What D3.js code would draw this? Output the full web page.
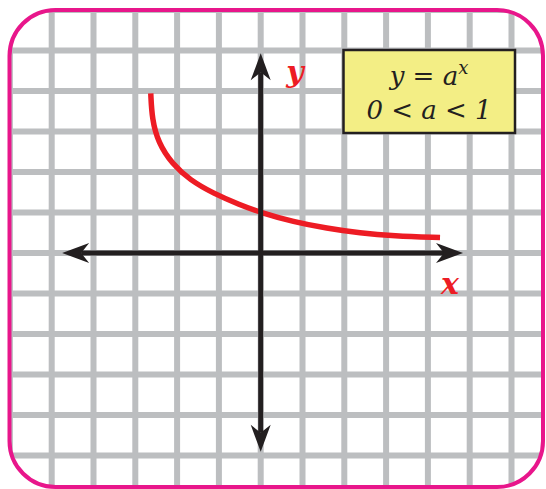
<!DOCTYPE html>
<html lang="en">
<head>
<meta charset="utf-8">
<title>y = a^x, 0 &lt; a &lt; 1</title>
<script src="https://d3js.org/d3.v7.min.js"></script>
<style>
    body { margin: 0; background: #fff; }
    svg { display: block; }
    .grid line { stroke: #bcbec0; stroke-width: 6; }
    .axis { stroke: #231f20; stroke-width: 5; }
    .arrow { fill: #231f20; }
    .curve { fill: none; stroke: #ed1c24; stroke-width: 5.5; stroke-linecap: butt; }
    .axlabel { font-family: "DejaVu Serif", serif; font-style: italic; font-weight: bold; fill: #ed1c24; font-size: 30px; }
    .boxtext { font-family: "DejaVu Serif", serif; font-style: italic; fill: #231f20; font-size: 26px; }
    .box { fill: #f3ee85; stroke: #231f20; stroke-width: 2.5; }
</style>
</head>
<body>
<svg width="546" height="489"></svg>
<script>
// grid lines, in grid units
const gridX = [-6, -5, -4, -3, -2, -1, 0, 1, 2, 3, 4, 5, 6];
const gridY = [6, 5, 4, 3, 2, 1, 0, -1, -2, -3, -4, -5];

// axis extent (arrow tips), grid units
const xAxisRange = [-4.75, 4.84];
const yAxisRange = [-4.91, 4.93];

// red curve (grid units)
const curveX = [-2.63, -2.60, -2.45, -2.12, -1.69, -1.13, -0.50, 0, 0.78, 1.58, 2.38, 3.17, 4.29];
const curveY = [3.94, 3.30, 2.72, 2.20, 1.80, 1.47, 1.19, 1.0, 0.77, 0.61, 0.49, 0.42, 0.38];

const boxLines = ['y = a', '0 < a < 1'];

const svg = d3.select('svg');

const x = d3.scaleLinear().domain([-5, 6]).range([51.7, 511.5]);
const y = d3.scaleLinear().domain([5, -5]).range([50.5, 455.5]);

// frame
const frame = { x: 9.5, y: 10, w: 533.5, h: 477, r: 46 };

svg.append('clipPath').attr('id', 'clip')
    .append('rect')
    .attr('x', frame.x).attr('y', frame.y)
    .attr('width', frame.w).attr('height', frame.h)
    .attr('rx', frame.r);

const grid = svg.append('g').attr('class', 'grid').attr('clip-path', 'url(#clip)');

grid.selectAll('line.v')
    .data(gridX)
    .enter().append('line')
    .attr('class', 'v')
    .attr('x1', d => x(d)).attr('x2', d => x(d))
    .attr('y1', 0).attr('y2', 489);

grid.selectAll('line.h')
    .data(gridY)
    .enter().append('line')
    .attr('class', 'h')
    .attr('y1', d => y(d)).attr('y2', d => y(d))
    .attr('x1', 0).attr('x2', 546);

svg.append('rect')
    .attr('x', frame.x).attr('y', frame.y)
    .attr('width', frame.w).attr('height', frame.h)
    .attr('rx', frame.r)
    .attr('fill', 'none')
    .attr('stroke', '#e8168b')
    .attr('stroke-width', 4);

// curve
const line = d3.line()
    .x((d, i) => x(curveX[i]))
    .y(d => y(d))
    .curve(d3.curveBasis);

svg.append('path')
    .attr('class', 'curve')
    .attr('d', line(curveY));

// axes
const notch = 19;
svg.append('line').attr('class', 'axis')
    .attr('x1', x(xAxisRange[0]) + notch).attr('x2', x(xAxisRange[1]) - notch)
    .attr('y1', y(0)).attr('y2', y(0));
svg.append('line').attr('class', 'axis')
    .attr('x1', x(0)).attr('x2', x(0))
    .attr('y1', y(yAxisRange[1]) + notch).attr('y2', y(yAxisRange[0]) - notch);

const head = 'M0,0 L-27,-10 L-19,0 L-27,10 Z';
const tips = [
    [x(xAxisRange[1]), y(0), 0],
    [x(xAxisRange[0]), y(0), 180],
    [x(0), y(yAxisRange[1]), -90],
    [x(0), y(yAxisRange[0]), 90]
];
svg.selectAll('path.arrow')
    .data(tips)
    .enter().append('path')
    .attr('class', 'arrow')
    .attr('d', head)
    .attr('transform', d => `translate(${d[0]},${d[1]}) rotate(${d[2]})`);

// axis names
svg.append('text').attr('class', 'axlabel')
    .attr('x', 295).attr('y', 82)
    .attr('text-anchor', 'middle')
    .text('y');
svg.append('text').attr('class', 'axlabel')
    .attr('x', 450).attr('y', 294)
    .attr('text-anchor', 'middle')
    .text('x');

// formula box
svg.append('rect').attr('class', 'box')
    .attr('x', 343.5).attr('y', 50)
    .attr('width', 171.5).attr('height', 83);

const t1 = svg.append('text').attr('class', 'boxtext')
    .attr('x', 429).attr('y', 85)
    .attr('text-anchor', 'middle');
t1.append('tspan').text(boxLines[0]);
t1.append('tspan').attr('dy', -11).attr('font-size', 18).text('x');

svg.append('text').attr('class', 'boxtext')
    .attr('x', 429).attr('y', 119)
    .attr('text-anchor', 'middle')
    .text(boxLines[1]);
</script>
</body>
</html>
